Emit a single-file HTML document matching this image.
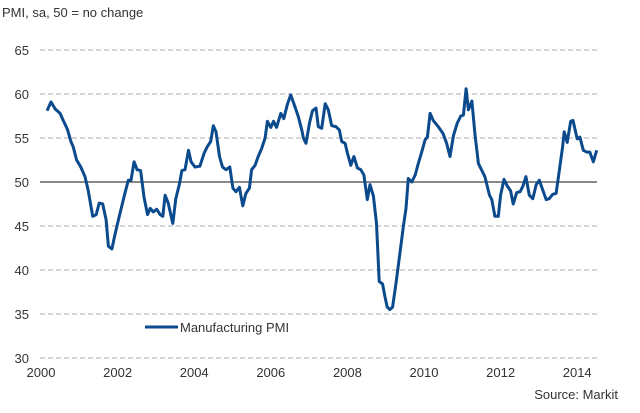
<!DOCTYPE html>
<html><head><meta charset="utf-8"><style>
html,body{margin:0;padding:0;background:#fff;}
svg{display:block;font-family:"Liberation Sans",Arial,sans-serif;}
</style></head><body>
<svg id="chart" width="640" height="413" viewBox="0 0 640 413">
<text x="2" y="17" font-size="13" fill="#333">PMI, sa, 50 = no change</text>
<g id="grid"></g>
<g id="yticks"></g>
<g id="xticks"></g>
<path id="series" fill="none" stroke="#0b4a8d" stroke-width="3" stroke-linejoin="round"></path>
<g>
<line x1="145" y1="327" x2="178" y2="327" stroke="#0b4a8d" stroke-width="3"/>
<text x="180" y="332" font-size="13" fill="#333">Manufacturing PMI</text>
</g>
<text x="618" y="399" font-size="13" fill="#333" text-anchor="end">Source: Markit</text>
</svg>
<script>
const yTicks=[30,35,40,45,50,55,60,65];
const xTickYears=[2000,2002,2004,2006,2008,2010,2012,2014];
const dates=[2000.16,2000.26,2000.37,2000.50,2000.58,2000.69,2000.78,2000.84,2000.93,2001.04,2001.15,2001.23,2001.35,2001.44,2001.52,2001.61,2001.70,2001.76,2001.85,2001.93,2002.06,2002.19,2002.28,2002.35,2002.43,2002.51,2002.60,2002.69,2002.78,2002.85,2002.93,2003.02,2003.11,2003.18,2003.24,2003.32,2003.44,2003.52,2003.61,2003.68,2003.76,2003.85,2003.92,2004.02,2004.15,2004.26,2004.34,2004.43,2004.50,2004.57,2004.66,2004.74,2004.83,2004.93,2005.01,2005.09,2005.18,2005.27,2005.35,2005.44,2005.50,2005.59,2005.67,2005.76,2005.85,2005.91,2006.00,2006.07,2006.15,2006.26,2006.34,2006.43,2006.52,2006.61,2006.72,2006.81,2006.85,2006.92,2007.01,2007.09,2007.18,2007.24,2007.33,2007.42,2007.50,2007.59,2007.70,2007.79,2007.85,2007.94,2008.00,2008.09,2008.17,2008.26,2008.35,2008.43,2008.52,2008.59,2008.68,2008.76,2008.83,2008.92,2008.98,2009.04,2009.11,2009.18,2009.27,2009.37,2009.46,2009.53,2009.59,2009.68,2009.77,2009.85,2009.94,2010.03,2010.09,2010.16,2010.24,2010.37,2010.50,2010.59,2010.68,2010.77,2010.87,2010.96,2011.03,2011.10,2011.16,2011.25,2011.33,2011.42,2011.59,2011.71,2011.77,2011.85,2011.94,2012.00,2012.09,2012.18,2012.26,2012.33,2012.42,2012.51,2012.58,2012.66,2012.75,2012.84,2012.93,2013.01,2013.10,2013.19,2013.27,2013.36,2013.45,2013.53,2013.62,2013.66,2013.74,2013.83,2013.89,2014.00,2014.07,2014.16,2014.25,2014.33,2014.42,2014.51];
const pmi=[58.1,59.1,58.3,57.8,57.0,56.0,54.6,54.0,52.5,51.7,50.6,49.1,46.1,46.3,47.6,47.5,45.7,42.7,42.4,44.0,46.4,48.7,50.2,50.2,52.3,51.4,51.3,48.3,46.3,47.0,46.6,46.9,46.3,46.1,48.5,47.6,45.3,48.1,49.7,51.3,51.4,53.6,52.3,51.7,51.8,53.3,54.0,54.6,56.4,55.7,52.9,51.7,51.4,51.7,49.3,48.9,49.4,47.3,48.7,49.3,51.4,51.9,52.9,53.8,55.0,56.9,56.2,56.9,56.2,57.8,57.2,58.8,59.9,58.8,57.4,55.9,55.0,54.4,56.7,58.1,58.4,56.3,56.1,58.9,58.2,56.4,56.3,55.9,54.6,54.4,53.3,51.9,52.9,51.6,51.4,50.8,48.0,49.7,48.4,45.3,38.7,38.4,37.0,35.8,35.5,35.8,38.5,41.9,44.9,47.0,50.4,50.0,50.8,52.1,53.4,54.8,55.1,57.8,57.0,56.3,55.5,54.4,52.9,55.3,56.7,57.5,57.6,60.6,58.2,59.2,55.5,52.1,50.6,48.5,48.0,46.1,46.1,48.5,50.3,49.5,49.0,47.5,48.8,48.9,49.5,50.6,48.5,48.1,49.7,50.2,49.1,48.0,48.1,48.6,48.7,51.2,54.0,55.7,54.5,56.9,57.0,54.9,55.1,53.6,53.4,53.4,52.3,53.6];

const X=t=>41+(t-2000)*38.3;
const Y=v=>182-(v-50)*8.8;
const NS="http://www.w3.org/2000/svg";
const grid=document.getElementById('grid'),yg=document.getElementById('yticks'),xg=document.getElementById('xticks');
yTicks.forEach(v=>{
  const l=document.createElementNS(NS,'line');
  l.setAttribute('x1',40);l.setAttribute('x2',597);
  l.setAttribute('y1',Y(v));l.setAttribute('y2',Y(v));
  if(v===50){l.setAttribute('stroke','#444');l.setAttribute('stroke-width','1.2');}
  else{l.setAttribute('stroke','#bdbdbd');l.setAttribute('stroke-width','1.3');l.setAttribute('stroke-dasharray','5,3');}
  
  
  grid.appendChild(l);
  const t=document.createElementNS(NS,'text');
  t.setAttribute('x',29);t.setAttribute('y',Y(v)+5);
  t.setAttribute('text-anchor','end');t.setAttribute('font-size','13');t.setAttribute('fill','#333');
  t.textContent=v;
  
  
  yg.appendChild(t);
});
xTickYears.forEach(yr=>{
  const t=document.createElementNS(NS,'text');
  t.setAttribute('x',X(yr));t.setAttribute('y',377);
  t.setAttribute('text-anchor','middle');t.setAttribute('font-size','13');t.setAttribute('fill','#333');
  t.textContent=yr;
  
  
  xg.appendChild(t);
});
document.getElementById('series').setAttribute('d',dates.map((d,i)=>(i?'L':'M')+X(d).toFixed(1)+','+Y(pmi[i]).toFixed(1)).join(''));
</script>
</body></html>
